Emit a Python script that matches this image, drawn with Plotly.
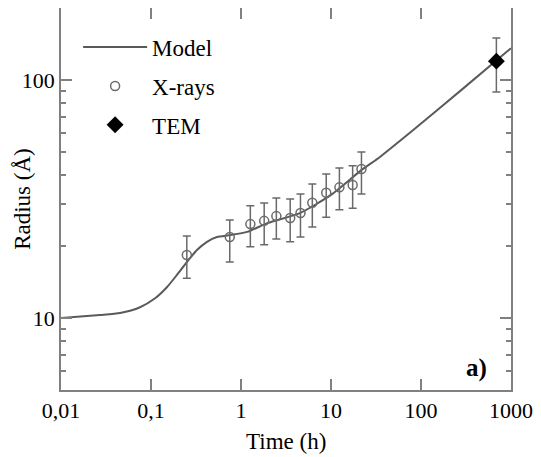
import plotly.graph_objects as go

# Model curve
model_t = [0.01, 0.0271, 0.0453, 0.0755, 0.111, 0.151, 0.195, 0.251, 0.324, 0.419,
           0.541, 0.755, 1.17, 2.0, 4.52, 10, 21.9, 35, 82, 295, 1000]
model_r = [10.0, 10.3, 10.5, 11.1, 12.1, 13.5, 15.2, 17.2, 19.3, 20.9,
           21.9, 22.3, 23.0, 25.1, 27.6, 32.9, 41.9, 47.5, 61.6, 92.2, 136]

# X-ray data
xr_t = [0.25, 0.75, 1.27, 1.81, 2.47, 3.52, 4.58, 6.2, 8.85, 12.4, 17.4, 21.8]
xr_r = [18.4, 21.9, 24.8, 25.6, 26.8, 26.3, 27.6, 30.5, 33.6, 35.4, 36.2, 42.3]
xr_hi = [22.1, 25.8, 29.6, 30.4, 31.9, 31.6, 33.2, 36.6, 40.3, 42.7, 43.6, 49.8]
xr_lo = [14.7, 17.2, 19.9, 20.3, 21.5, 20.9, 21.9, 24.1, 26.5, 28.5, 28.9, 33.2]

# TEM data
tem_t = [688]
tem_r = [120]
tem_hi = [150]
tem_lo = [89]

x_tickvals = [0.01, 0.1, 1, 10, 100, 1000]
x_ticktext = ["0,01", "0,1", "1", "10", "100", "1000"]
y_tickvals = [10, 100]
y_ticktext = ["10", "100"]
y_minor = [5, 6, 7, 8, 9, 20, 30, 40, 50, 60, 70, 80, 90, 200]

FONT = "Liberation Serif"
GRAY = "#5a5a5a"
FRAME = "#808080"

fig = go.Figure()
fig.add_trace(go.Scatter(
    x=model_t, y=model_r, mode="lines", name="Model",
    line=dict(color=GRAY, width=2, shape="spline", smoothing=0.6),
    legendgroup="a"))
fig.add_trace(go.Scatter(
    x=xr_t, y=xr_r, mode="markers", name="X-rays",
    marker=dict(symbol="circle-open", size=9, color="#6a6a6a", line=dict(width=1.5)),
    error_y=dict(type="data", symmetric=False,
                 array=[h - v for h, v in zip(xr_hi, xr_r)],
                 arrayminus=[v - l for l, v in zip(xr_lo, xr_r)],
                 color="#6a6a6a", thickness=1.5, width=4),
    legendgroup="b"))
fig.add_trace(go.Scatter(
    x=tem_t, y=tem_r, mode="markers", name="TEM",
    marker=dict(symbol="diamond", size=13, color="black"),
    error_y=dict(type="data", symmetric=False,
                 array=[h - v for h, v in zip(tem_hi, tem_r)],
                 arrayminus=[v - l for l, v in zip(tem_lo, tem_r)],
                 color="#6a6a6a", thickness=1.5, width=4),
    legendgroup="c"))

fig.add_annotation(x=0.924, y=0.058, xref="paper", yref="paper", text="<b>a)</b>",
                   showarrow=False, font=dict(family=FONT, size=25, color="black"),
                   xanchor="center", yanchor="middle")
fig.add_annotation(x=0.5, y=-0.136, xref="paper", yref="paper", text="Time (h)",
                   showarrow=False, font=dict(family=FONT, size=23, color="black"),
                   xanchor="center", yanchor="middle")
fig.add_annotation(x=-0.087, y=0.5, xref="paper", yref="paper", text="Radius (Å)",
                   showarrow=False, textangle=-90, font=dict(family=FONT, size=23, color="black"),
                   xanchor="center", yanchor="middle")

fig.update_layout(
    width=541, height=457,
    margin=dict(l=53, r=38, t=0, b=75),
    paper_bgcolor="white", plot_bgcolor="white",
    font=dict(family=FONT, size=23, color="black"),
    showlegend=True,
    legend=dict(x=0.038, y=0.954, xanchor="left", yanchor="top",
                bgcolor="rgba(0,0,0,0)", itemwidth=64, tracegroupgap=6,
                font=dict(family=FONT, size=23)),
    xaxis=dict(type="log", range=[-2, 3], tickvals=x_tickvals, ticktext=x_ticktext,
               ticks="inside", ticklen=11, tickcolor=FRAME, tickwidth=1.5, showgrid=False,
               showline=True, linecolor=FRAME, linewidth=1.5, mirror="allticks",
               zeroline=False, automargin=False,
               tickfont=dict(family=FONT, size=22)),
    yaxis=dict(type="log", range=[0.6975, 2.3025], tickvals=y_tickvals, ticktext=y_ticktext,
               ticks="inside", ticklen=11, tickcolor=FRAME, tickwidth=1.5, showgrid=False,
               showline=True, linecolor=FRAME, linewidth=1.5, mirror="allticks",
               zeroline=False, automargin=False,
               minor=dict(tickvals=y_minor, ticks="inside", ticklen=5, tickcolor=FRAME,
                          tickwidth=1.5, showgrid=False),
               tickfont=dict(family=FONT, size=22)),
)

fig.write_html("out.html")
